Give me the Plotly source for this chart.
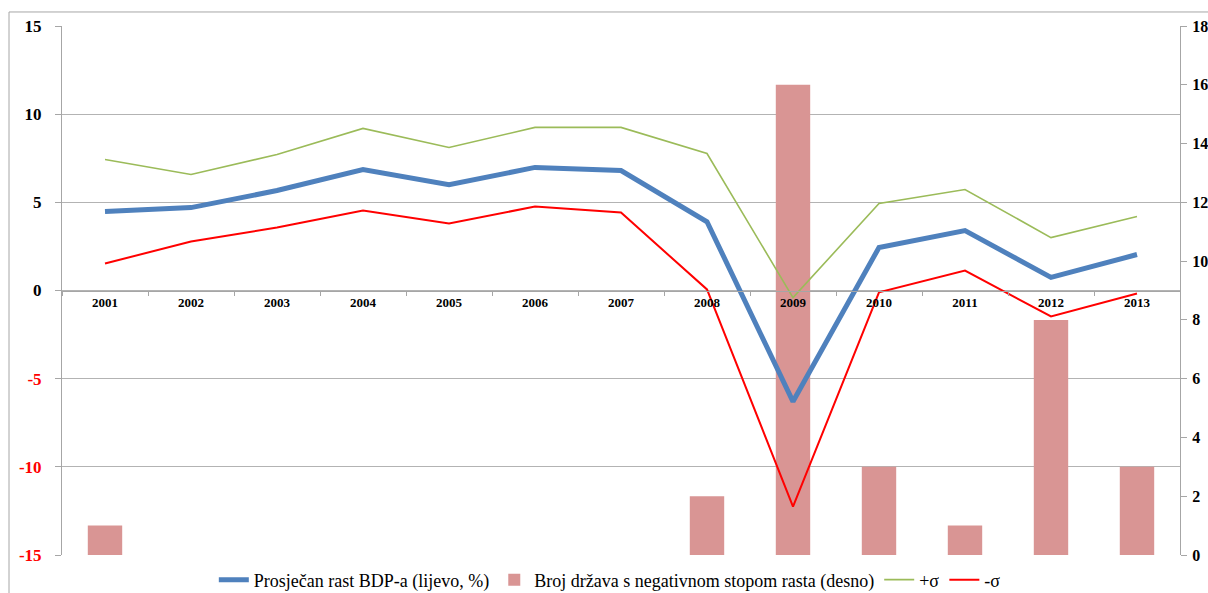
import plotly.graph_objects as go

years = ["2001", "2002", "2003", "2004", "2005", "2006", "2007",
         "2008", "2009", "2010", "2011", "2012", "2013"]
mean_growth = [4.48, 4.70, 5.67, 6.86, 6.00, 6.98, 6.80, 3.90, -6.30, 2.44, 3.40, 0.74, 2.04]
plus_sigma = [7.43, 6.58, 7.71, 9.19, 8.11, 9.25, 9.25, 7.77, -0.40, 4.93, 5.73, 3.00, 4.20]
minus_sigma = [1.53, 2.78, 3.57, 4.54, 3.80, 4.76, 4.42, 0.06, -12.25, -0.10, 1.13, -1.47, -0.17]
neg_count = [1, 0, 0, 0, 0, 0, 0, 2, 16, 3, 1, 8, 3]

left_ticks = [15, 10, 5, 0, -5, -10, -15]
left_colors = ["black", "black", "black", "black", "#ff0000", "#ff0000", "#ff0000"]
right_ticks = [0, 2, 4, 6, 8, 10, 12, 14, 16, 18]

names = ["Prosječan rast BDP-a (lijevo, %)",
         "Broj država s negativnom stopom rasta (desno)",
         "+σ", "-σ"]

FONT = "Liberation Serif, Times New Roman, serif"

fig = go.Figure()
fig.add_trace(go.Scatter(x=years, y=mean_growth, name=names[0], mode="lines",
                         line=dict(color="#4f81bd", width=5), yaxis="y2"))
fig.add_trace(go.Bar(x=years, y=neg_count, name=names[1], marker_color="#d99594",
                     marker_line_width=0, width=0.4, yaxis="y"))
fig.add_trace(go.Scatter(x=years, y=plus_sigma, name=names[2], mode="lines",
                         line=dict(color="#9bbb59", width=1.6), yaxis="y2"))
fig.add_trace(go.Scatter(x=years, y=minus_sigma, name=names[3], mode="lines",
                         line=dict(color="#ff0000", width=2), yaxis="y2"))

fig.update_layout(
    width=1208, height=593,
    margin=dict(l=62, r=28, t=26, b=38, autoexpand=False),
    paper_bgcolor="white", plot_bgcolor="white",
    font=dict(family=FONT, color="black"),
    showlegend=True,
    legend=dict(orientation="h", x=0.49, xanchor="center",
                yref="container", y=0.022, yanchor="middle",
                font=dict(family=FONT, size=18, color="black"), itemwidth=30,
                traceorder="normal"),
    xaxis=dict(type="category", anchor="free", position=0.5, automargin=False,
               showline=True, linecolor="#a6a6a6", linewidth=1,
               ticks="outside", tickson="boundaries", ticklen=4, tickcolor="#a6a6a6",
               tickfont=dict(family=FONT, size=13, color="black", weight="bold"),
               showgrid=False, range=[-0.5, 12.5]),
    yaxis=dict(side="right", range=[0, 18], tickvals=right_ticks,
               ticktext=[f"<b>{v}</b>" for v in right_ticks], automargin=False,
               showgrid=False, zeroline=False, showline=True, linecolor="#a6a6a6",
               ticks="outside", ticklen=6, tickcolor="#a6a6a6", ticklabelstandoff=2,
               tickfont=dict(family=FONT, size=16, color="black")),
    yaxis2=dict(overlaying="y", side="left", anchor="x", range=[-15, 15],
                tickvals=left_ticks, automargin=False,
                ticktext=[f'<span style="color:{c}"><b>{v}</b></span>'
                          for v, c in zip(left_ticks, left_colors)],
                showgrid=True, gridcolor="#b3b3b3", gridwidth=1, zeroline=False,
                showline=True, linecolor="#a6a6a6",
                ticks="outside", ticklen=6, tickcolor="#a6a6a6", ticklabelstandoff=10,
                tickfont=dict(family=FONT, size=17, color="black")),
    shapes=[
        dict(type="line", xref="paper", yref="paper", x0=-0.0474, x1=-0.0474,
             y0=-0.2, y1=1.0265, line=dict(color="#a6a6a6", width=1)),
        dict(type="line", xref="paper", yref="paper", x0=-0.0474, x1=1.1,
             y0=1.0265, y1=1.0265, line=dict(color="#a6a6a6", width=1)),
    ],
)

fig.write_html("out.html", config={"displayModeBar": False},
               post_script="document.body.style.margin='0';document.body.style.overflow='hidden';")
